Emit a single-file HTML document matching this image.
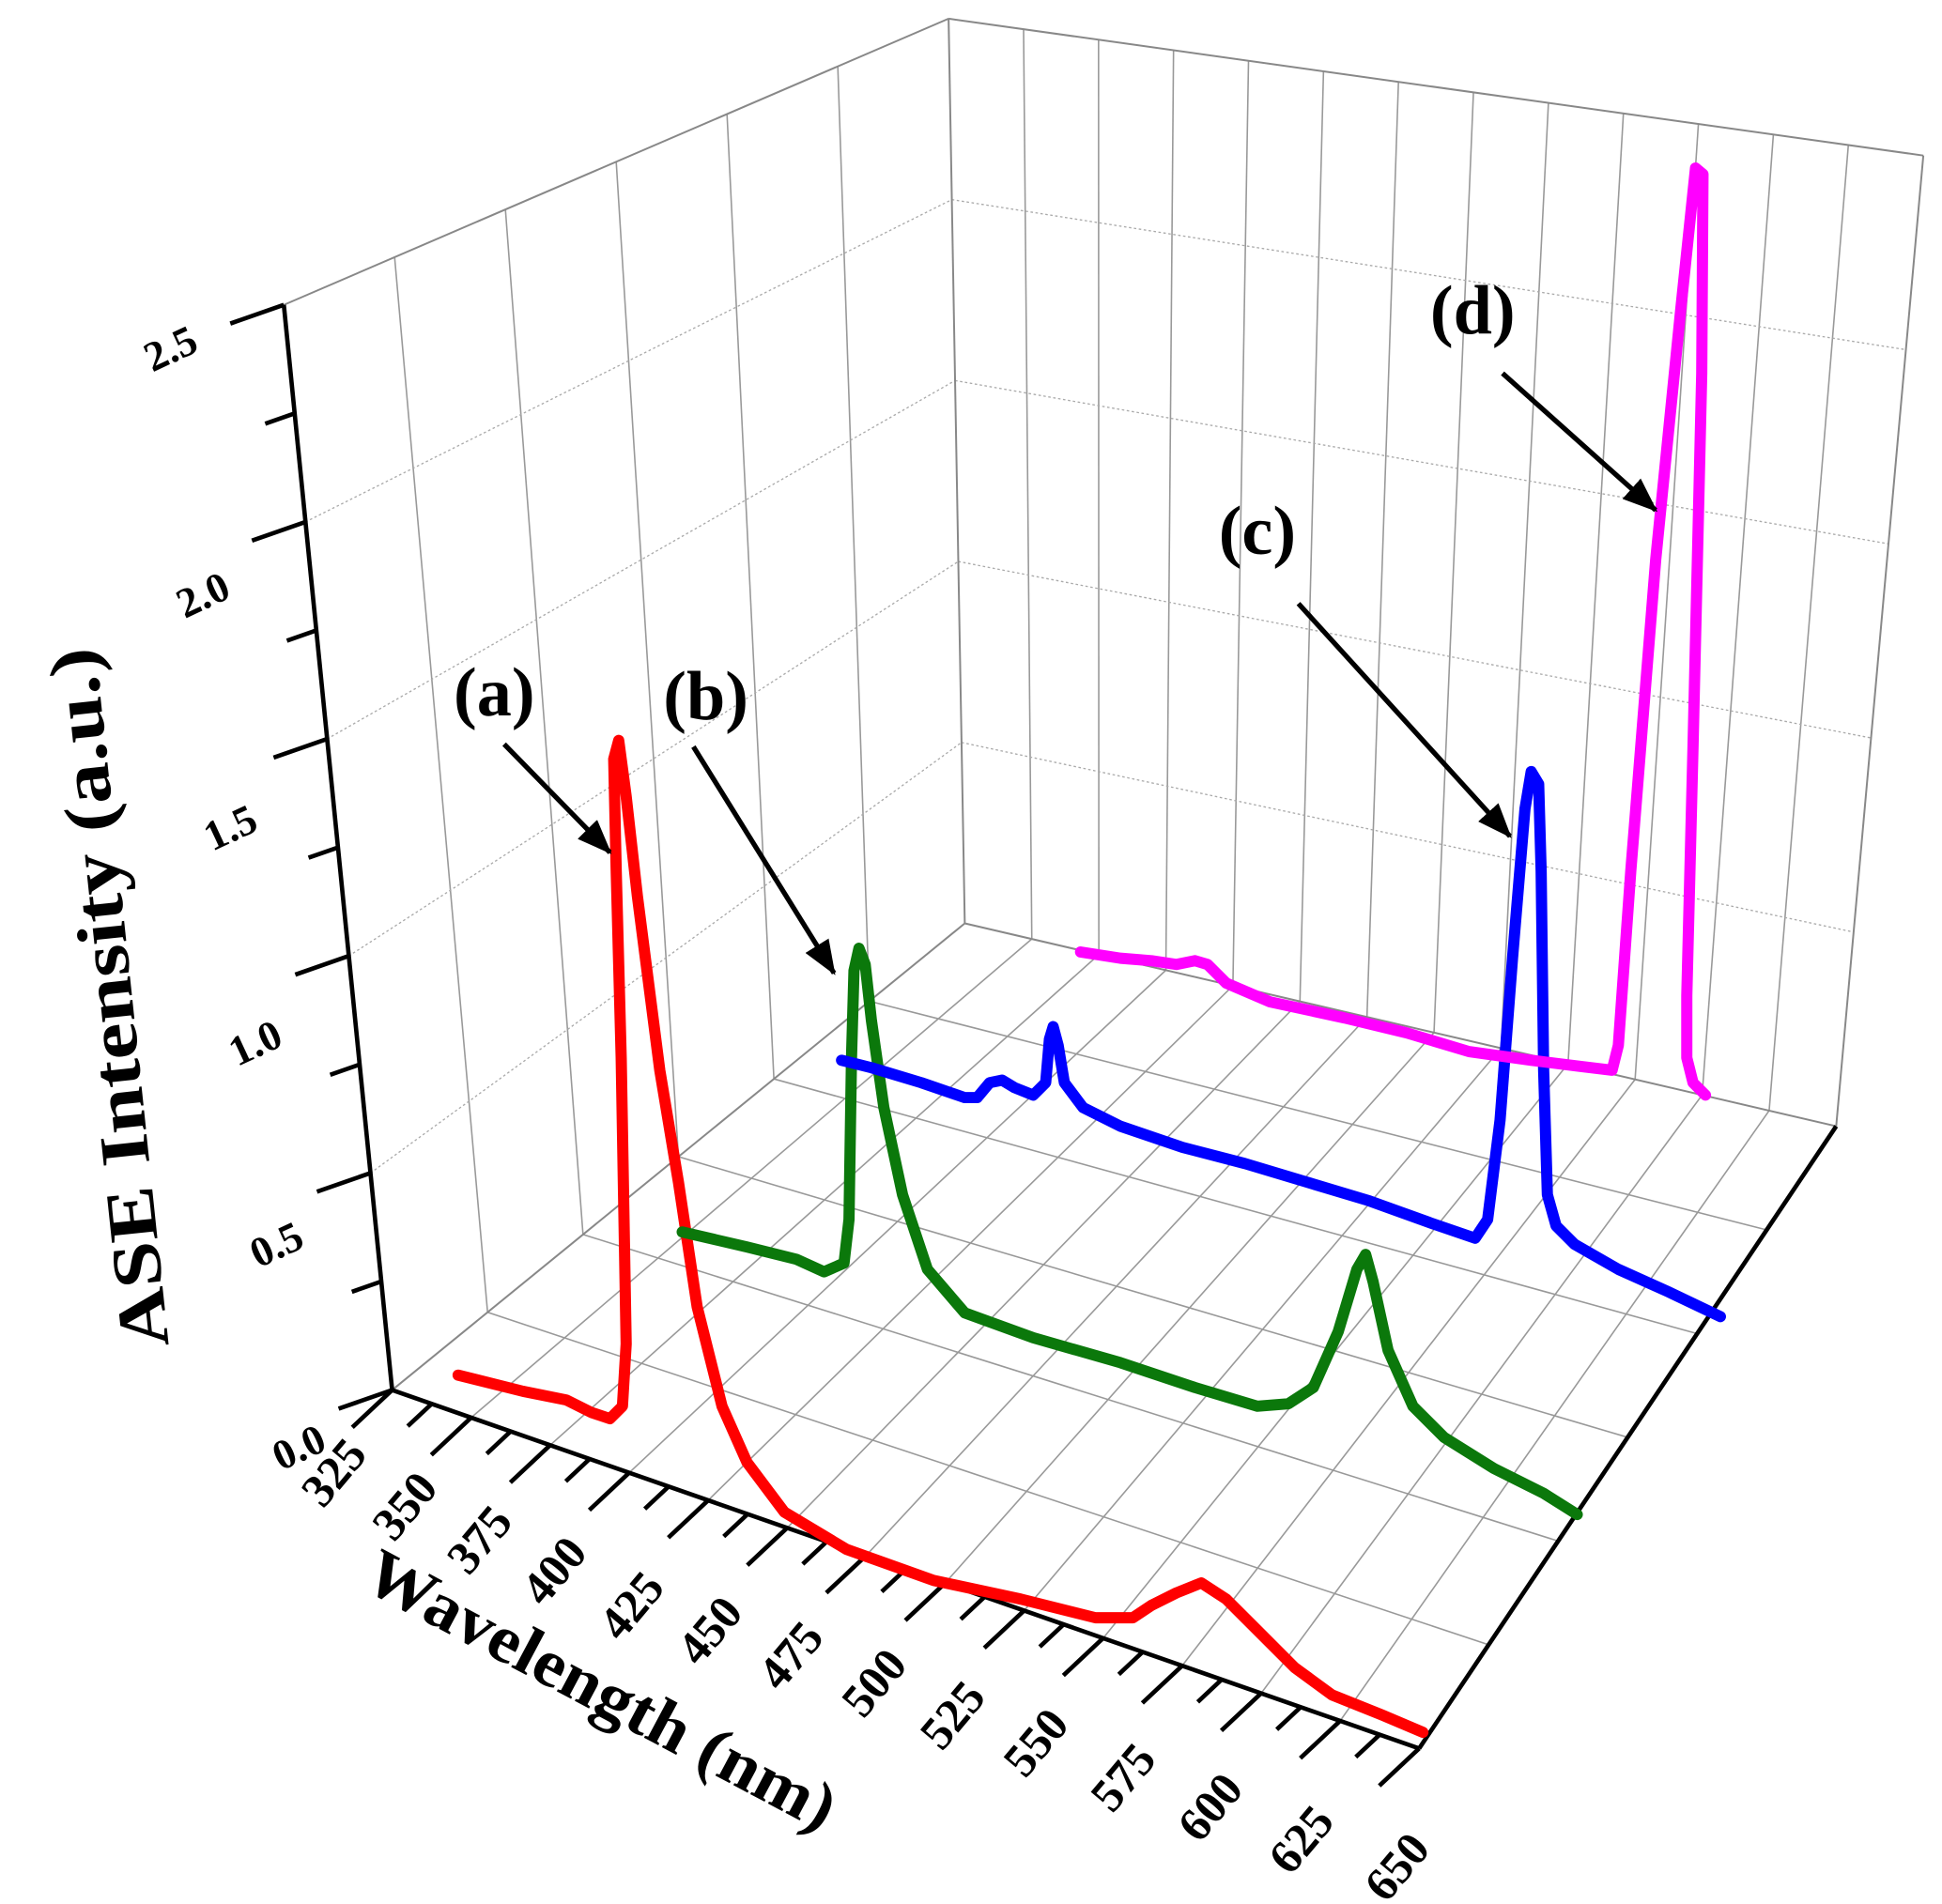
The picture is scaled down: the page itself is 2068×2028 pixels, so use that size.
<!DOCTYPE html>
<html><head><meta charset="utf-8"><style>
html,body{margin:0;padding:0;background:#fff;}
svg{display:block;}
text{font-family:"Liberation Serif",serif;font-weight:bold;}
</style></head><body>
<svg id="s" width="2068" height="2028" viewBox="0 0 1560 1530" preserveAspectRatio="none" xmlns="http://www.w3.org/2000/svg">
<defs>
<marker id="ah2" markerWidth="28" markerHeight="22" refX="26" refY="11" orient="auto" markerUnits="userSpaceOnUse"><path d="M0,0 L28,11 L0,22 z" fill="#000"/></marker></defs>
<g id="grid"></g>
<g id="curves" fill="none" stroke-width="9" stroke-linejoin="round" stroke-linecap="round"></g>
<g id="labels"></g>
</svg>
<script>
var NS="http://www.w3.org/2000/svg";
function el(p,t,a,txt){var e=document.createElementNS(NS,t);for(var k in a)e.setAttribute(k,a[k]);if(txt!=null)e.textContent=txt;document.getElementById(p).appendChild(e);return e;}
function L(a,b,t){return [a[0]+(b[0]-a[0])*t,a[1]+(b[1]-a[1])*t];}
function line(p,a,b,st){var o={x1:a[0],y1:a[1],x2:b[0],y2:b[1]};for(var k in st)o[k]=st[k];el(p,'line',o);}
var F0=[315,1117],F1=[1140,1405],B1=[1475,905],B0=[775,742];
var T0=[228,245],TB0=[762,15],TB1=[1545,125];
var gs={stroke:'#999','stroke-width':1.2};
var ds={stroke:'#aaa','stroke-width':1,'stroke-dasharray':'2,2'};
for(var i=1;i<13;i++){var t=i/13;line('grid',L(B0,B1,t),L(TB0,TB1,t),gs);}
for(var i=1;i<6;i++){var t=i/6;line('grid',L(F0,B0,t),L(T0,TB0,t),gs);}
for(var i=1;i<13;i++){var t=i/13;line('grid',L(F0,F1,t),L(B0,B1,t),gs);}
for(var i=1;i<6;i++){var t=i/6;line('grid',L(F0,B0,t),L(F1,B1,t),gs);}
for(var v=0.5;v<=2.01;v+=0.5){var t=v/2.5;var a=L(F0,T0,t),b=L(B0,TB0,t),c=L(B1,TB1,t);line('grid',a,b,ds);line('grid',b,c,ds);}
var fs={stroke:'#888','stroke-width':1.5};
line('grid',T0,TB0,fs);line('grid',TB0,TB1,fs);line('grid',TB1,B1,fs);line('grid',B0,TB0,fs);line('grid',F0,B0,fs);line('grid',B0,B1,fs);
var ax={stroke:'#000','stroke-width':3.5};
line('grid',F0,T0,ax);line('grid',F0,F1,ax);line('grid',F1,B1,ax);
for(var k=0;k<=10;k++){var t=k/10;var p=L(F0,T0,t);var len=(k%2==0)?1:0.55;line('grid',p,[p[0]-43*len,p[1]+15*len],ax);}
var yl=[[240,1163,'0.0'],[222,1000,'0.5'],[205,838,'1.0'],[185,665,'1.5'],[163,478,'2.0'],[137,280,'2.5']];
yl.forEach(function(q){el('labels','text',{x:q[0],y:q[1],'font-size':34,'text-anchor':'middle','dominant-baseline':'central',transform:'rotate(-25 '+q[0]+' '+q[1]+')'},q[2]);});
for(var k=0;k<=26;k++){var t=k/26;var p=L(F0,F1,t);var len=(k%2==0)?1:0.6;line('grid',p,[p[0]-32*len,p[1]+30*len],ax);}
var xl=[[268,1183],[325,1210],[385,1237],[445,1262],[507,1290],[570,1310],[635,1330],[702,1352],[765,1378],[832,1400],[902,1428],[972,1452],[1045,1478],[1122,1500]];
xl.forEach(function(q,k){el('labels','text',{x:q[0],y:q[1],'font-size':38,'text-anchor':'middle','dominant-baseline':'central',transform:'rotate(-50 '+q[0]+' '+q[1]+')'},String(325+25*k));});
el('labels','text',{x:483,y:1358,'font-size':54,'text-anchor':'middle','dominant-baseline':'central',textLength:420,lengthAdjust:'spacingAndGlyphs',transform:'rotate(28 483 1358)'},'Wavelength (nm)');
el('labels','text',{x:88,y:802,'font-size':56,'text-anchor':'middle','dominant-baseline':'central',textLength:565,lengthAdjust:'spacingAndGlyphs',transform:'rotate(-96 88 802)'},'ASE Intensity (a.u.)');
function poly(pts,col){el('curves','polyline',{points:pts.map(function(p){return p.join(',')}).join(' '),stroke:col});}
poly([[368,1105],[420,1118],[455,1125],[475,1135],[490,1140],[500,1130],[503,1080],[499,850],[495,700],[493,610],[497,595],[503,640],[512,720],[530,860],[545,950],[560,1050],[580,1130],[600,1175],[630,1215],[680,1245],[750,1270],[820,1285],[880,1300],[910,1300],[925,1290],[945,1280],[965,1272],[985,1285],[1010,1310],[1040,1340],[1070,1362],[1110,1378],[1143,1392]],'#ff0000');
poly([[548,990],[600,1002],[640,1012],[662,1022],[678,1015],[682,980],[684,850],[686,780],[690,762],[695,775],[700,820],[710,890],[725,960],[745,1020],[775,1055],[830,1075],[900,1095],[960,1115],[1010,1130],[1035,1128],[1055,1115],[1075,1070],[1090,1020],[1097,1008],[1103,1030],[1115,1085],[1135,1130],[1160,1155],[1200,1180],[1240,1200],[1267,1217]],'#0b780b');
poly([[676,852],[700,858],[740,870],[775,882],[785,882],[795,870],[805,868],[815,874],[830,880],[840,870],[843,835],[846,825],[850,840],[855,870],[870,890],[900,905],[950,922],[1000,935],[1050,950],[1100,965],[1150,983],[1185,995],[1195,980],[1205,900],[1215,770],[1225,650],[1230,620],[1236,630],[1238,700],[1240,860],[1243,960],[1250,985],[1265,1000],[1300,1020],[1340,1038],[1382,1058]],'#0000ff');
poly([[868,765],[900,770],[925,772],[945,775],[960,772],[970,775],[985,790],[1020,805],[1080,818],[1130,830],[1180,845],[1230,852],[1270,857],[1295,860],[1300,840],[1310,700],[1330,450],[1350,250],[1362,135],[1368,140],[1367,300],[1360,600],[1355,800],[1355,850],[1360,870],[1370,880]],'#ff00ff');
[[397,575,'(a)'],[567,578,'(b)'],[1010,445,'(c)'],[1183,268,'(d)']].forEach(function(q){el('labels','text',{x:q[0],y:q[1],'font-size':56,'text-anchor':'middle'},q[2]);});
[[405,598,490,685],[557,600,670,782],[1043,485,1213,672],[1207,300,1330,410]].forEach(function(a){el('labels','line',{x1:a[0],y1:a[1],x2:a[2],y2:a[3],stroke:'#000','stroke-width':4,'marker-end':'url(#ah2)'});});
</script>
</body></html>
